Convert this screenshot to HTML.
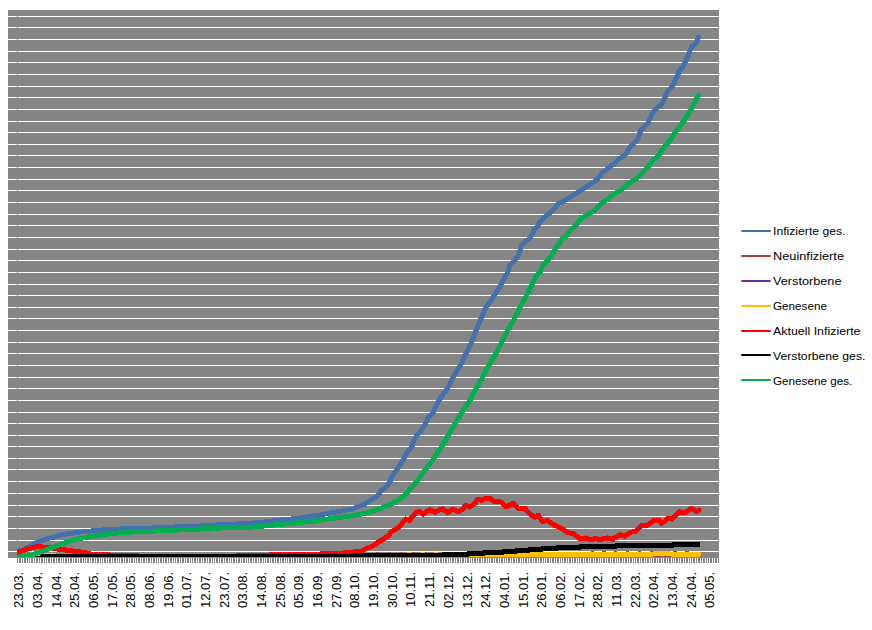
<!DOCTYPE html>
<html><head><meta charset="utf-8"><style>
html,body{margin:0;padding:0;background:#fff;width:872px;height:630px;overflow:hidden}
svg{display:block}
text{font-family:"Liberation Sans",sans-serif}
</style></head><body>
<svg width="872" height="630" viewBox="0 0 872 630"><defs><clipPath id="pc"><rect x="17" y="10" width="702" height="547"/></clipPath></defs><rect x="8" y="10" width="711" height="548" fill="#858585"/><g fill="#ffffff" shape-rendering="crispEdges"><rect x="8" y="16" width="711" height="1"/><rect x="8" y="27" width="711" height="1"/><rect x="8" y="39" width="711" height="1"/><rect x="8" y="51" width="711" height="1"/><rect x="8" y="62" width="711" height="1"/><rect x="8" y="74" width="711" height="1"/><rect x="8" y="86" width="711" height="1"/><rect x="8" y="97" width="711" height="1"/><rect x="8" y="109" width="711" height="1"/><rect x="8" y="121" width="711" height="1"/><rect x="8" y="132" width="711" height="1"/><rect x="8" y="144" width="711" height="1"/><rect x="8" y="155" width="711" height="1"/><rect x="8" y="167" width="711" height="1"/><rect x="8" y="179" width="711" height="1"/><rect x="8" y="190" width="711" height="1"/><rect x="8" y="202" width="711" height="1"/><rect x="8" y="214" width="711" height="1"/><rect x="8" y="225" width="711" height="1"/><rect x="8" y="237" width="711" height="1"/><rect x="8" y="249" width="711" height="1"/><rect x="8" y="260" width="711" height="1"/><rect x="8" y="272" width="711" height="1"/><rect x="8" y="284" width="711" height="1"/><rect x="8" y="295" width="711" height="1"/><rect x="8" y="307" width="711" height="1"/><rect x="8" y="318" width="711" height="1"/><rect x="8" y="330" width="711" height="1"/><rect x="8" y="342" width="711" height="1"/><rect x="8" y="353" width="711" height="1"/><rect x="8" y="365" width="711" height="1"/><rect x="8" y="377" width="711" height="1"/><rect x="8" y="388" width="711" height="1"/><rect x="8" y="400" width="711" height="1"/><rect x="8" y="412" width="711" height="1"/><rect x="8" y="423" width="711" height="1"/><rect x="8" y="435" width="711" height="1"/><rect x="8" y="446" width="711" height="1"/><rect x="8" y="458" width="711" height="1"/><rect x="8" y="469" width="711" height="1"/><rect x="8" y="481" width="711" height="1"/><rect x="8" y="493" width="711" height="1"/><rect x="8" y="505" width="711" height="1"/><rect x="8" y="516" width="711" height="1"/><rect x="8" y="528" width="711" height="1"/><rect x="8" y="540" width="711" height="1"/><rect x="8" y="551" width="711" height="1"/></g><rect x="17" y="10" width="1" height="553" fill="#868686" shape-rendering="crispEdges"/><g fill="#868686" shape-rendering="crispEdges"><rect x="17" y="558" width="1" height="5"/><rect x="19" y="558" width="1" height="5"/><rect x="20" y="558" width="1" height="5"/><rect x="22" y="558" width="1" height="5"/><rect x="24" y="558" width="1" height="5"/><rect x="25" y="558" width="1" height="5"/><rect x="27" y="558" width="1" height="5"/><rect x="29" y="558" width="1" height="5"/><rect x="31" y="558" width="1" height="5"/><rect x="32" y="558" width="1" height="5"/><rect x="34" y="558" width="1" height="5"/><rect x="36" y="558" width="1" height="5"/><rect x="37" y="558" width="1" height="5"/><rect x="39" y="558" width="1" height="5"/><rect x="41" y="558" width="1" height="5"/><rect x="42" y="558" width="1" height="5"/><rect x="44" y="558" width="1" height="5"/><rect x="46" y="558" width="1" height="5"/><rect x="48" y="558" width="1" height="5"/><rect x="49" y="558" width="1" height="5"/><rect x="51" y="558" width="1" height="5"/><rect x="53" y="558" width="1" height="5"/><rect x="54" y="558" width="1" height="5"/><rect x="56" y="558" width="1" height="5"/><rect x="58" y="558" width="1" height="5"/><rect x="59" y="558" width="1" height="5"/><rect x="61" y="558" width="1" height="5"/><rect x="63" y="558" width="1" height="5"/><rect x="65" y="558" width="1" height="5"/><rect x="66" y="558" width="1" height="5"/><rect x="68" y="558" width="1" height="5"/><rect x="70" y="558" width="1" height="5"/><rect x="71" y="558" width="1" height="5"/><rect x="73" y="558" width="1" height="5"/><rect x="75" y="558" width="1" height="5"/><rect x="76" y="558" width="1" height="5"/><rect x="78" y="558" width="1" height="5"/><rect x="80" y="558" width="1" height="5"/><rect x="81" y="558" width="1" height="5"/><rect x="83" y="558" width="1" height="5"/><rect x="85" y="558" width="1" height="5"/><rect x="87" y="558" width="1" height="5"/><rect x="88" y="558" width="1" height="5"/><rect x="90" y="558" width="1" height="5"/><rect x="92" y="558" width="1" height="5"/><rect x="93" y="558" width="1" height="5"/><rect x="95" y="558" width="1" height="5"/><rect x="97" y="558" width="1" height="5"/><rect x="98" y="558" width="1" height="5"/><rect x="100" y="558" width="1" height="5"/><rect x="102" y="558" width="1" height="5"/><rect x="104" y="558" width="1" height="5"/><rect x="105" y="558" width="1" height="5"/><rect x="107" y="558" width="1" height="5"/><rect x="109" y="558" width="1" height="5"/><rect x="110" y="558" width="1" height="5"/><rect x="112" y="558" width="1" height="5"/><rect x="114" y="558" width="1" height="5"/><rect x="115" y="558" width="1" height="5"/><rect x="117" y="558" width="1" height="5"/><rect x="119" y="558" width="1" height="5"/><rect x="121" y="558" width="1" height="5"/><rect x="122" y="558" width="1" height="5"/><rect x="124" y="558" width="1" height="5"/><rect x="126" y="558" width="1" height="5"/><rect x="127" y="558" width="1" height="5"/><rect x="129" y="558" width="1" height="5"/><rect x="131" y="558" width="1" height="5"/><rect x="132" y="558" width="1" height="5"/><rect x="134" y="558" width="1" height="5"/><rect x="136" y="558" width="1" height="5"/><rect x="138" y="558" width="1" height="5"/><rect x="139" y="558" width="1" height="5"/><rect x="141" y="558" width="1" height="5"/><rect x="143" y="558" width="1" height="5"/><rect x="144" y="558" width="1" height="5"/><rect x="146" y="558" width="1" height="5"/><rect x="148" y="558" width="1" height="5"/><rect x="149" y="558" width="1" height="5"/><rect x="151" y="558" width="1" height="5"/><rect x="153" y="558" width="1" height="5"/><rect x="154" y="558" width="1" height="5"/><rect x="156" y="558" width="1" height="5"/><rect x="158" y="558" width="1" height="5"/><rect x="160" y="558" width="1" height="5"/><rect x="161" y="558" width="1" height="5"/><rect x="163" y="558" width="1" height="5"/><rect x="165" y="558" width="1" height="5"/><rect x="166" y="558" width="1" height="5"/><rect x="168" y="558" width="1" height="5"/><rect x="170" y="558" width="1" height="5"/><rect x="171" y="558" width="1" height="5"/><rect x="173" y="558" width="1" height="5"/><rect x="175" y="558" width="1" height="5"/><rect x="177" y="558" width="1" height="5"/><rect x="178" y="558" width="1" height="5"/><rect x="180" y="558" width="1" height="5"/><rect x="182" y="558" width="1" height="5"/><rect x="183" y="558" width="1" height="5"/><rect x="185" y="558" width="1" height="5"/><rect x="187" y="558" width="1" height="5"/><rect x="188" y="558" width="1" height="5"/><rect x="190" y="558" width="1" height="5"/><rect x="192" y="558" width="1" height="5"/><rect x="194" y="558" width="1" height="5"/><rect x="195" y="558" width="1" height="5"/><rect x="197" y="558" width="1" height="5"/><rect x="199" y="558" width="1" height="5"/><rect x="200" y="558" width="1" height="5"/><rect x="202" y="558" width="1" height="5"/><rect x="204" y="558" width="1" height="5"/><rect x="205" y="558" width="1" height="5"/><rect x="207" y="558" width="1" height="5"/><rect x="209" y="558" width="1" height="5"/><rect x="210" y="558" width="1" height="5"/><rect x="212" y="558" width="1" height="5"/><rect x="214" y="558" width="1" height="5"/><rect x="216" y="558" width="1" height="5"/><rect x="217" y="558" width="1" height="5"/><rect x="219" y="558" width="1" height="5"/><rect x="221" y="558" width="1" height="5"/><rect x="222" y="558" width="1" height="5"/><rect x="224" y="558" width="1" height="5"/><rect x="226" y="558" width="1" height="5"/><rect x="227" y="558" width="1" height="5"/><rect x="229" y="558" width="1" height="5"/><rect x="231" y="558" width="1" height="5"/><rect x="233" y="558" width="1" height="5"/><rect x="234" y="558" width="1" height="5"/><rect x="236" y="558" width="1" height="5"/><rect x="238" y="558" width="1" height="5"/><rect x="239" y="558" width="1" height="5"/><rect x="241" y="558" width="1" height="5"/><rect x="243" y="558" width="1" height="5"/><rect x="244" y="558" width="1" height="5"/><rect x="246" y="558" width="1" height="5"/><rect x="248" y="558" width="1" height="5"/><rect x="250" y="558" width="1" height="5"/><rect x="251" y="558" width="1" height="5"/><rect x="253" y="558" width="1" height="5"/><rect x="255" y="558" width="1" height="5"/><rect x="256" y="558" width="1" height="5"/><rect x="258" y="558" width="1" height="5"/><rect x="260" y="558" width="1" height="5"/><rect x="261" y="558" width="1" height="5"/><rect x="263" y="558" width="1" height="5"/><rect x="265" y="558" width="1" height="5"/><rect x="267" y="558" width="1" height="5"/><rect x="268" y="558" width="1" height="5"/><rect x="270" y="558" width="1" height="5"/><rect x="272" y="558" width="1" height="5"/><rect x="273" y="558" width="1" height="5"/><rect x="275" y="558" width="1" height="5"/><rect x="277" y="558" width="1" height="5"/><rect x="278" y="558" width="1" height="5"/><rect x="280" y="558" width="1" height="5"/><rect x="282" y="558" width="1" height="5"/><rect x="283" y="558" width="1" height="5"/><rect x="285" y="558" width="1" height="5"/><rect x="287" y="558" width="1" height="5"/><rect x="289" y="558" width="1" height="5"/><rect x="290" y="558" width="1" height="5"/><rect x="292" y="558" width="1" height="5"/><rect x="294" y="558" width="1" height="5"/><rect x="295" y="558" width="1" height="5"/><rect x="297" y="558" width="1" height="5"/><rect x="299" y="558" width="1" height="5"/><rect x="300" y="558" width="1" height="5"/><rect x="302" y="558" width="1" height="5"/><rect x="304" y="558" width="1" height="5"/><rect x="306" y="558" width="1" height="5"/><rect x="307" y="558" width="1" height="5"/><rect x="309" y="558" width="1" height="5"/><rect x="311" y="558" width="1" height="5"/><rect x="312" y="558" width="1" height="5"/><rect x="314" y="558" width="1" height="5"/><rect x="316" y="558" width="1" height="5"/><rect x="317" y="558" width="1" height="5"/><rect x="319" y="558" width="1" height="5"/><rect x="321" y="558" width="1" height="5"/><rect x="323" y="558" width="1" height="5"/><rect x="324" y="558" width="1" height="5"/><rect x="326" y="558" width="1" height="5"/><rect x="328" y="558" width="1" height="5"/><rect x="329" y="558" width="1" height="5"/><rect x="331" y="558" width="1" height="5"/><rect x="333" y="558" width="1" height="5"/><rect x="334" y="558" width="1" height="5"/><rect x="336" y="558" width="1" height="5"/><rect x="338" y="558" width="1" height="5"/><rect x="339" y="558" width="1" height="5"/><rect x="341" y="558" width="1" height="5"/><rect x="343" y="558" width="1" height="5"/><rect x="345" y="558" width="1" height="5"/><rect x="346" y="558" width="1" height="5"/><rect x="348" y="558" width="1" height="5"/><rect x="350" y="558" width="1" height="5"/><rect x="351" y="558" width="1" height="5"/><rect x="353" y="558" width="1" height="5"/><rect x="355" y="558" width="1" height="5"/><rect x="356" y="558" width="1" height="5"/><rect x="358" y="558" width="1" height="5"/><rect x="360" y="558" width="1" height="5"/><rect x="362" y="558" width="1" height="5"/><rect x="363" y="558" width="1" height="5"/><rect x="365" y="558" width="1" height="5"/><rect x="367" y="558" width="1" height="5"/><rect x="368" y="558" width="1" height="5"/><rect x="370" y="558" width="1" height="5"/><rect x="372" y="558" width="1" height="5"/><rect x="373" y="558" width="1" height="5"/><rect x="375" y="558" width="1" height="5"/><rect x="377" y="558" width="1" height="5"/><rect x="379" y="558" width="1" height="5"/><rect x="380" y="558" width="1" height="5"/><rect x="382" y="558" width="1" height="5"/><rect x="384" y="558" width="1" height="5"/><rect x="385" y="558" width="1" height="5"/><rect x="387" y="558" width="1" height="5"/><rect x="389" y="558" width="1" height="5"/><rect x="390" y="558" width="1" height="5"/><rect x="392" y="558" width="1" height="5"/><rect x="394" y="558" width="1" height="5"/><rect x="396" y="558" width="1" height="5"/><rect x="397" y="558" width="1" height="5"/><rect x="399" y="558" width="1" height="5"/><rect x="401" y="558" width="1" height="5"/><rect x="402" y="558" width="1" height="5"/><rect x="404" y="558" width="1" height="5"/><rect x="406" y="558" width="1" height="5"/><rect x="407" y="558" width="1" height="5"/><rect x="409" y="558" width="1" height="5"/><rect x="411" y="558" width="1" height="5"/><rect x="412" y="558" width="1" height="5"/><rect x="414" y="558" width="1" height="5"/><rect x="416" y="558" width="1" height="5"/><rect x="418" y="558" width="1" height="5"/><rect x="419" y="558" width="1" height="5"/><rect x="421" y="558" width="1" height="5"/><rect x="423" y="558" width="1" height="5"/><rect x="424" y="558" width="1" height="5"/><rect x="426" y="558" width="1" height="5"/><rect x="428" y="558" width="1" height="5"/><rect x="429" y="558" width="1" height="5"/><rect x="431" y="558" width="1" height="5"/><rect x="433" y="558" width="1" height="5"/><rect x="435" y="558" width="1" height="5"/><rect x="436" y="558" width="1" height="5"/><rect x="438" y="558" width="1" height="5"/><rect x="440" y="558" width="1" height="5"/><rect x="441" y="558" width="1" height="5"/><rect x="443" y="558" width="1" height="5"/><rect x="445" y="558" width="1" height="5"/><rect x="446" y="558" width="1" height="5"/><rect x="448" y="558" width="1" height="5"/><rect x="450" y="558" width="1" height="5"/><rect x="452" y="558" width="1" height="5"/><rect x="453" y="558" width="1" height="5"/><rect x="455" y="558" width="1" height="5"/><rect x="457" y="558" width="1" height="5"/><rect x="458" y="558" width="1" height="5"/><rect x="460" y="558" width="1" height="5"/><rect x="462" y="558" width="1" height="5"/><rect x="463" y="558" width="1" height="5"/><rect x="465" y="558" width="1" height="5"/><rect x="467" y="558" width="1" height="5"/><rect x="468" y="558" width="1" height="5"/><rect x="470" y="558" width="1" height="5"/><rect x="472" y="558" width="1" height="5"/><rect x="474" y="558" width="1" height="5"/><rect x="475" y="558" width="1" height="5"/><rect x="477" y="558" width="1" height="5"/><rect x="479" y="558" width="1" height="5"/><rect x="480" y="558" width="1" height="5"/><rect x="482" y="558" width="1" height="5"/><rect x="484" y="558" width="1" height="5"/><rect x="485" y="558" width="1" height="5"/><rect x="487" y="558" width="1" height="5"/><rect x="489" y="558" width="1" height="5"/><rect x="491" y="558" width="1" height="5"/><rect x="492" y="558" width="1" height="5"/><rect x="494" y="558" width="1" height="5"/><rect x="496" y="558" width="1" height="5"/><rect x="497" y="558" width="1" height="5"/><rect x="499" y="558" width="1" height="5"/><rect x="501" y="558" width="1" height="5"/><rect x="502" y="558" width="1" height="5"/><rect x="504" y="558" width="1" height="5"/><rect x="506" y="558" width="1" height="5"/><rect x="508" y="558" width="1" height="5"/><rect x="509" y="558" width="1" height="5"/><rect x="511" y="558" width="1" height="5"/><rect x="513" y="558" width="1" height="5"/><rect x="514" y="558" width="1" height="5"/><rect x="516" y="558" width="1" height="5"/><rect x="518" y="558" width="1" height="5"/><rect x="519" y="558" width="1" height="5"/><rect x="521" y="558" width="1" height="5"/><rect x="523" y="558" width="1" height="5"/><rect x="525" y="558" width="1" height="5"/><rect x="526" y="558" width="1" height="5"/><rect x="528" y="558" width="1" height="5"/><rect x="530" y="558" width="1" height="5"/><rect x="531" y="558" width="1" height="5"/><rect x="533" y="558" width="1" height="5"/><rect x="535" y="558" width="1" height="5"/><rect x="536" y="558" width="1" height="5"/><rect x="538" y="558" width="1" height="5"/><rect x="540" y="558" width="1" height="5"/><rect x="541" y="558" width="1" height="5"/><rect x="543" y="558" width="1" height="5"/><rect x="545" y="558" width="1" height="5"/><rect x="547" y="558" width="1" height="5"/><rect x="548" y="558" width="1" height="5"/><rect x="550" y="558" width="1" height="5"/><rect x="552" y="558" width="1" height="5"/><rect x="553" y="558" width="1" height="5"/><rect x="555" y="558" width="1" height="5"/><rect x="557" y="558" width="1" height="5"/><rect x="558" y="558" width="1" height="5"/><rect x="560" y="558" width="1" height="5"/><rect x="562" y="558" width="1" height="5"/><rect x="564" y="558" width="1" height="5"/><rect x="565" y="558" width="1" height="5"/><rect x="567" y="558" width="1" height="5"/><rect x="569" y="558" width="1" height="5"/><rect x="570" y="558" width="1" height="5"/><rect x="572" y="558" width="1" height="5"/><rect x="574" y="558" width="1" height="5"/><rect x="575" y="558" width="1" height="5"/><rect x="577" y="558" width="1" height="5"/><rect x="579" y="558" width="1" height="5"/><rect x="581" y="558" width="1" height="5"/><rect x="582" y="558" width="1" height="5"/><rect x="584" y="558" width="1" height="5"/><rect x="586" y="558" width="1" height="5"/><rect x="587" y="558" width="1" height="5"/><rect x="589" y="558" width="1" height="5"/><rect x="591" y="558" width="1" height="5"/><rect x="592" y="558" width="1" height="5"/><rect x="594" y="558" width="1" height="5"/><rect x="596" y="558" width="1" height="5"/><rect x="597" y="558" width="1" height="5"/><rect x="599" y="558" width="1" height="5"/><rect x="601" y="558" width="1" height="5"/><rect x="603" y="558" width="1" height="5"/><rect x="604" y="558" width="1" height="5"/><rect x="606" y="558" width="1" height="5"/><rect x="608" y="558" width="1" height="5"/><rect x="609" y="558" width="1" height="5"/><rect x="611" y="558" width="1" height="5"/><rect x="613" y="558" width="1" height="5"/><rect x="614" y="558" width="1" height="5"/><rect x="616" y="558" width="1" height="5"/><rect x="618" y="558" width="1" height="5"/><rect x="620" y="558" width="1" height="5"/><rect x="621" y="558" width="1" height="5"/><rect x="623" y="558" width="1" height="5"/><rect x="625" y="558" width="1" height="5"/><rect x="626" y="558" width="1" height="5"/><rect x="628" y="558" width="1" height="5"/><rect x="630" y="558" width="1" height="5"/><rect x="631" y="558" width="1" height="5"/><rect x="633" y="558" width="1" height="5"/><rect x="635" y="558" width="1" height="5"/><rect x="637" y="558" width="1" height="5"/><rect x="638" y="558" width="1" height="5"/><rect x="640" y="558" width="1" height="5"/><rect x="642" y="558" width="1" height="5"/><rect x="643" y="558" width="1" height="5"/><rect x="645" y="558" width="1" height="5"/><rect x="647" y="558" width="1" height="5"/><rect x="648" y="558" width="1" height="5"/><rect x="650" y="558" width="1" height="5"/><rect x="652" y="558" width="1" height="5"/><rect x="654" y="558" width="1" height="5"/><rect x="655" y="558" width="1" height="5"/><rect x="657" y="558" width="1" height="5"/><rect x="659" y="558" width="1" height="5"/><rect x="660" y="558" width="1" height="5"/><rect x="662" y="558" width="1" height="5"/><rect x="664" y="558" width="1" height="5"/><rect x="665" y="558" width="1" height="5"/><rect x="667" y="558" width="1" height="5"/><rect x="669" y="558" width="1" height="5"/><rect x="670" y="558" width="1" height="5"/><rect x="672" y="558" width="1" height="5"/><rect x="674" y="558" width="1" height="5"/><rect x="676" y="558" width="1" height="5"/><rect x="677" y="558" width="1" height="5"/><rect x="679" y="558" width="1" height="5"/><rect x="681" y="558" width="1" height="5"/><rect x="682" y="558" width="1" height="5"/><rect x="684" y="558" width="1" height="5"/><rect x="686" y="558" width="1" height="5"/><rect x="687" y="558" width="1" height="5"/><rect x="689" y="558" width="1" height="5"/><rect x="691" y="558" width="1" height="5"/><rect x="693" y="558" width="1" height="5"/><rect x="694" y="558" width="1" height="5"/><rect x="696" y="558" width="1" height="5"/><rect x="698" y="558" width="1" height="5"/><rect x="699" y="558" width="1" height="5"/><rect x="701" y="558" width="1" height="5"/><rect x="703" y="558" width="1" height="5"/><rect x="704" y="558" width="1" height="5"/><rect x="706" y="558" width="1" height="5"/><rect x="708" y="558" width="1" height="5"/><rect x="710" y="558" width="1" height="5"/><rect x="711" y="558" width="1" height="5"/><rect x="713" y="558" width="1" height="5"/><rect x="715" y="558" width="1" height="5"/><rect x="716" y="558" width="1" height="5"/><rect x="718" y="558" width="1" height="5"/></g><g clip-path="url(#pc)" fill="none" stroke-width="5" stroke-linejoin="round" stroke-linecap="round" shape-rendering="crispEdges"><path d="M17.0,551.5 L22.0,550.1 L25.5,548.4 L29.0,546.6 L32.5,544.9 L36.0,543.0 L40.0,541.0 L43.5,539.9 L47.0,538.8 L50.5,537.8 L54.0,536.8 L57.5,536.0 L61.0,535.2 L64.5,534.3 L70.0,533.5 L75.6,532.7 L82.5,531.8 L89.4,531.1 L96.3,530.6 L103.2,529.9 L110.0,529.4 L124.4,528.8 L147.0,528.5 L155.4,527.8 L178.3,526.8 L200.0,526.2 L206.0,525.5 L250.0,523.3 L260.0,522.5 L268.0,521.6 L275.0,520.5 L290.0,519.2 L300.0,518.0 L310.0,516.5 L320.0,515.0 L330.0,513.0 L340.0,511.4 L352.0,509.1 L360.8,505.5 L364.0,504.6 L370.0,500.6 L376.7,496.7 L379.5,493.5 L381.1,490.0 L385.6,487.8 L388.9,483.3 L390.5,481.5 L391.1,477.8 L393.3,474.4 L397.1,469.5 L400.7,463.7 L403.9,458.5 L407.7,451.0 L412.0,446.5 L413.4,440.8 L416.8,435.5 L419.1,433.2 L425.8,423.5 L428.0,418.0 L433.1,412.5 L435.0,407.8 L439.2,400.5 L440.7,397.6 L447.5,388.5 L453.1,377.5 L456.6,370.9 L460.6,365.5 L465.8,353.5 L471.3,342.5 L476.1,330.5 L481.1,318.5 L486.1,307.5 L494.4,295.5 L501.1,284.5 L503.7,279.1 L508.1,271.3 L509.8,265.2 L513.3,261.7 L517.7,256.4 L520.3,250.3 L521.2,246.0 L525.6,241.6 L529.9,238.1 L532.6,233.7 L534.3,229.4 L537.8,226.3 L538.1,225.5 L540.7,220.9 L544.5,217.0 L548.5,214.0 L551.7,210.9 L555.0,208.5 L556.0,206.1 L558.8,203.2 L563.1,201.5 L580.7,190.5 L597.4,179.5 L601.9,173.1 L607.6,168.7 L614.6,163.6 L619.0,159.1 L624.5,155.5 L627.3,152.1 L628.9,148.3 L633.0,144.5 L635.5,141.8 L638.3,138.2 L640.7,130.7 L644.3,126.4 L647.9,123.6 L650.0,118.6 L652.1,113.6 L655.7,109.3 L659.3,106.4 L662.1,103.6 L663.6,100.0 L665.2,97.5 L666.4,93.5 L670.2,88.4 L673.0,85.5 L675.6,79.2 L677.5,76.2 L678.7,71.6 L680.2,69.3 L682.9,67.0 L684.4,64.0 L686.7,58.7 L688.6,54.9 L690.5,49.5 L691.6,46.5 L695.0,44.2 L697.3,41.1 L698.5,36.8" stroke="#4470AC"/><path d="M17.0,558.5 L80.0,558.5 L370.0,557.0 L378.0,554.6 L382.0,556.8 L389.9,554.6 L393.9,556.8 L401.8,554.6 L405.8,556.8 L413.7,554.6 L417.7,556.8 L425.6,554.6 L429.6,556.8 L437.5,554.6 L441.5,556.8 L449.4,554.6 L453.4,556.8 L461.3,554.6 L465.3,556.8 L473.2,554.6 L477.2,556.8 L485.1,554.6 L489.1,556.8 L497.0,554.6 L501.0,556.8 L508.9,554.6 L512.9,556.8 L520.8,554.6 L524.8,556.8 L532.7,554.6 L536.7,556.8 L544.6,554.6 L548.6,556.8 L556.5,554.6 L560.5,556.8 L568.4,554.6 L572.4,556.8 L580.3,554.6 L584.3,556.8 L592.2,553.6 L596.2,555.5 L604.1,553.6 L608.1,555.5 L616.0,553.6 L620.0,555.5 L627.9,553.6 L631.9,555.5 L639.8,553.6 L643.8,555.5 L651.7,553.6 L655.7,555.5 L663.6,553.6 L667.6,555.5 L675.5,553.6 L679.5,555.5 L687.4,553.6 L691.4,555.5 L699.0,555.0" stroke="#A5403C"/><path d="M17.0,559.0 L699.0,559.0" stroke="#7030A0"/><path d="M17.0,558.0 L30.0,557.5 L38.0,556.0 L42.0,555.5 L54.0,555.5 L58.0,557.0 L80.0,558.5 L380.0,558.0 L400.0,556.5 L409.0,554.6 L415.0,556.5 L423.0,554.6 L428.0,556.5 L436.0,554.6 L442.0,556.0 L468.0,558.3 L485.0,557.5 L505.0,556.5 L518.0,555.4 L531.0,554.5 L560.0,554.4 L600.0,554.5 L640.0,554.2 L660.0,553.9 L680.0,554.1 L699.0,554.3" stroke="#FFC000"/><path d="M17.0,552.4 L22.0,551.0 L25.5,549.7 L29.0,548.6 L32.5,547.8 L36.0,546.9 L37.7,546.5 L41.2,546.9 L45.0,547.2 L51.1,547.8 L58.0,549.2 L62.0,549.5 L68.5,550.5 L77.0,551.5 L84.3,552.5 L89.3,553.5 L92.0,554.5 L108.5,554.5 L109.5,555.5 L137.0,555.5 L138.5,556.5 L236.0,556.5 L237.5,555.5 L269.0,555.5 L270.5,554.5 L320.0,554.5 L321.0,553.5 L344.0,553.5 L345.0,552.4 L354.0,552.4 L355.0,551.3 L361.0,551.3 L363.0,550.3 L367.5,548.1 L370.0,547.1 L375.0,544.6 L380.0,541.1 L384.3,538.6 L388.6,535.7 L391.4,531.4 L395.7,529.3 L400.0,526.4 L402.9,522.1 L405.7,518.9 L409.3,520.4 L412.9,516.4 L416.4,512.1 L420.0,511.8 L423.1,514.2 L426.7,511.2 L429.6,509.8 L435.0,512.1 L438.6,510.6 L442.7,508.8 L447.5,512.4 L452.9,509.4 L458.8,511.8 L462.4,509.4 L466.0,505.2 L469.5,507.0 L473.7,504.6 L477.9,499.0 L482.0,500.5 L486.2,498.1 L489.8,498.1 L494.5,501.7 L498.1,501.1 L502.3,502.9 L506.0,507.0 L513.1,503.5 L517.9,508.2 L525.0,508.2 L529.8,514.2 L535.1,517.1 L538.1,515.4 L542.3,521.3 L547.6,520.7 L553.6,524.9 L560.7,527.9 L567.9,532.6 L573.8,533.8 L579.8,538.6 L585.7,538.0 L590.5,539.8 L595.2,538.6 L600.0,539.5 L607.6,538.0 L612.6,539.2 L620.2,534.8 L625.2,536.1 L630.3,532.3 L635.3,531.4 L641.6,525.4 L647.9,525.1 L654.2,520.1 L659.3,520.3 L661.8,523.5 L668.1,518.0 L671.9,519.3 L679.4,511.7 L684.5,513.0 L691.4,508.3 L696.5,511.7 L699.0,510.2" stroke="#FF0000"/><path d="M17.0,559.5 L37.1,558.5 L41.4,558.5 L42.2,556.5 L354.6,556.5 L355.4,555.5 L442.6,555.5 L443.4,554.5 L467.6,554.5 L468.4,553.5 L483.6,553.5 L484.4,552.5 L502.6,552.5 L503.4,551.5 L515.6,551.5 L516.4,550.5 L528.6,550.5 L529.4,549.5 L541.6,549.5 L542.4,548.5 L556.6,548.5 L557.4,547.5 L579.6,547.5 L580.4,546.5 L615.6,546.5 L616.4,545.5 L672.6,545.5 L673.4,544.5 L698.0,544.5" stroke="#000000"/><path d="M17.0,557.5 L21.2,556.9 L25.3,556.2 L30.5,555.2 L35.6,553.8 L40.8,551.9 L46.0,549.9 L52.2,547.3 L57.5,545.6 L64.5,543.1 L75.6,539.4 L82.5,538.0 L89.4,536.6 L96.3,535.6 L103.2,534.8 L110.0,533.9 L118.7,532.9 L132.4,531.9 L147.0,531.5 L155.4,531.0 L182.9,529.8 L200.0,529.3 L202.0,528.5 L250.0,527.2 L260.0,526.5 L268.0,525.5 L290.0,523.5 L300.0,522.5 L310.0,521.5 L318.0,520.5 L325.0,519.5 L340.0,517.4 L352.0,515.9 L364.0,513.5 L370.0,511.9 L385.7,506.4 L388.4,505.5 L400.0,499.3 L406.3,493.5 L416.8,481.5 L425.4,469.5 L433.7,458.5 L441.8,446.5 L448.3,435.5 L455.0,423.5 L461.7,412.5 L469.7,400.5 L476.1,388.5 L482.5,377.5 L488.8,365.5 L495.8,353.5 L501.7,342.5 L507.6,330.5 L514.7,318.5 L519.7,307.5 L526.7,295.5 L532.3,284.5 L535.8,276.3 L539.9,272.5 L541.2,268.6 L544.0,263.8 L547.3,260.5 L551.7,255.2 L555.5,249.5 L556.4,246.2 L560.2,242.4 L562.1,238.6 L565.1,237.5 L571.7,228.6 L575.5,225.5 L581.2,218.6 L587.6,214.5 L590.7,212.9 L595.0,210.5 L599.5,204.9 L604.3,201.5 L609.0,198.2 L614.3,193.5 L620.4,190.5 L629.0,183.1 L635.5,179.5 L643.3,172.1 L647.9,167.5 L651.9,161.0 L659.0,155.5 L661.4,151.0 L666.1,144.5 L669.5,141.0 L675.3,132.5 L683.6,121.5 L691.0,109.5 L697.3,97.5 L698.5,95.6" stroke="#00B050"/></g><rect x="17" y="557" width="702" height="1" fill="#868686" shape-rendering="crispEdges"/><g font-family="Liberation Sans, sans-serif" font-size="13" text-anchor="end" fill="#000"><text transform="translate(23.20,571.8) rotate(-90)">23.03.</text><text transform="translate(41.88,571.8) rotate(-90)">03.04.</text><text transform="translate(60.56,571.8) rotate(-90)">14.04.</text><text transform="translate(79.24,571.8) rotate(-90)">25.04.</text><text transform="translate(97.92,571.8) rotate(-90)">06.05.</text><text transform="translate(116.60,571.8) rotate(-90)">17.05.</text><text transform="translate(135.28,571.8) rotate(-90)">28.05.</text><text transform="translate(153.96,571.8) rotate(-90)">08.06.</text><text transform="translate(172.64,571.8) rotate(-90)">19.06.</text><text transform="translate(191.32,571.8) rotate(-90)">01.07.</text><text transform="translate(210.00,571.8) rotate(-90)">12.07.</text><text transform="translate(228.68,571.8) rotate(-90)">23.07.</text><text transform="translate(247.36,571.8) rotate(-90)">03.08.</text><text transform="translate(266.04,571.8) rotate(-90)">14.08.</text><text transform="translate(284.72,571.8) rotate(-90)">25.08.</text><text transform="translate(303.40,571.8) rotate(-90)">05.09.</text><text transform="translate(322.08,571.8) rotate(-90)">16.09.</text><text transform="translate(340.76,571.8) rotate(-90)">27.09.</text><text transform="translate(359.44,571.8) rotate(-90)">08.10.</text><text transform="translate(378.12,571.8) rotate(-90)">19.10.</text><text transform="translate(396.80,571.8) rotate(-90)">30.10.</text><text transform="translate(415.48,571.8) rotate(-90)">10.11.</text><text transform="translate(434.16,571.8) rotate(-90)">21.11.</text><text transform="translate(452.84,571.8) rotate(-90)">02.12.</text><text transform="translate(471.52,571.8) rotate(-90)">13.12.</text><text transform="translate(490.20,571.8) rotate(-90)">24.12.</text><text transform="translate(508.88,571.8) rotate(-90)">04.01.</text><text transform="translate(527.56,571.8) rotate(-90)">15.01.</text><text transform="translate(546.24,571.8) rotate(-90)">26.01.</text><text transform="translate(564.92,571.8) rotate(-90)">06.02.</text><text transform="translate(583.60,571.8) rotate(-90)">17.02.</text><text transform="translate(602.28,571.8) rotate(-90)">28.02.</text><text transform="translate(620.96,571.8) rotate(-90)">11.03.</text><text transform="translate(639.64,571.8) rotate(-90)">22.03.</text><text transform="translate(658.32,571.8) rotate(-90)">02.04.</text><text transform="translate(677.00,571.8) rotate(-90)">13.04.</text><text transform="translate(695.68,571.8) rotate(-90)">24.04.</text><text transform="translate(714.36,571.8) rotate(-90)">05.05.</text></g><g font-family="Liberation Sans, sans-serif" font-size="11.7" fill="#000"><line x1="742" y1="231.00" x2="770" y2="231.00" stroke="#4470AC" stroke-width="2" stroke-linecap="round"/><text x="773" y="235.00" textLength="72.5" lengthAdjust="spacingAndGlyphs">Infizierte ges.</text><line x1="742" y1="256.00" x2="770" y2="256.00" stroke="#A5403C" stroke-width="2" stroke-linecap="round"/><text x="773" y="260.00" textLength="71" lengthAdjust="spacingAndGlyphs">Neuinfizierte</text><line x1="742" y1="281.00" x2="770" y2="281.00" stroke="#7030A0" stroke-width="2" stroke-linecap="round"/><text x="773" y="285.00" textLength="68.5" lengthAdjust="spacingAndGlyphs">Verstorbene</text><line x1="742" y1="306.00" x2="770" y2="306.00" stroke="#FFC000" stroke-width="2" stroke-linecap="round"/><text x="773" y="310.00" textLength="54" lengthAdjust="spacingAndGlyphs">Genesene</text><line x1="742" y1="331.00" x2="770" y2="331.00" stroke="#FF0000" stroke-width="2" stroke-linecap="round"/><text x="773" y="335.00" textLength="87.5" lengthAdjust="spacingAndGlyphs">Aktuell Infizierte</text><line x1="742" y1="355.00" x2="770" y2="355.00" stroke="#000000" stroke-width="2" stroke-linecap="round"/><text x="773" y="360.00" textLength="92.4" lengthAdjust="spacingAndGlyphs">Verstorbene ges.</text><line x1="742" y1="380.00" x2="770" y2="380.00" stroke="#00B050" stroke-width="2" stroke-linecap="round"/><text x="773" y="384.70" textLength="79.3" lengthAdjust="spacingAndGlyphs">Genesene ges.</text></g></svg>
</body></html>
